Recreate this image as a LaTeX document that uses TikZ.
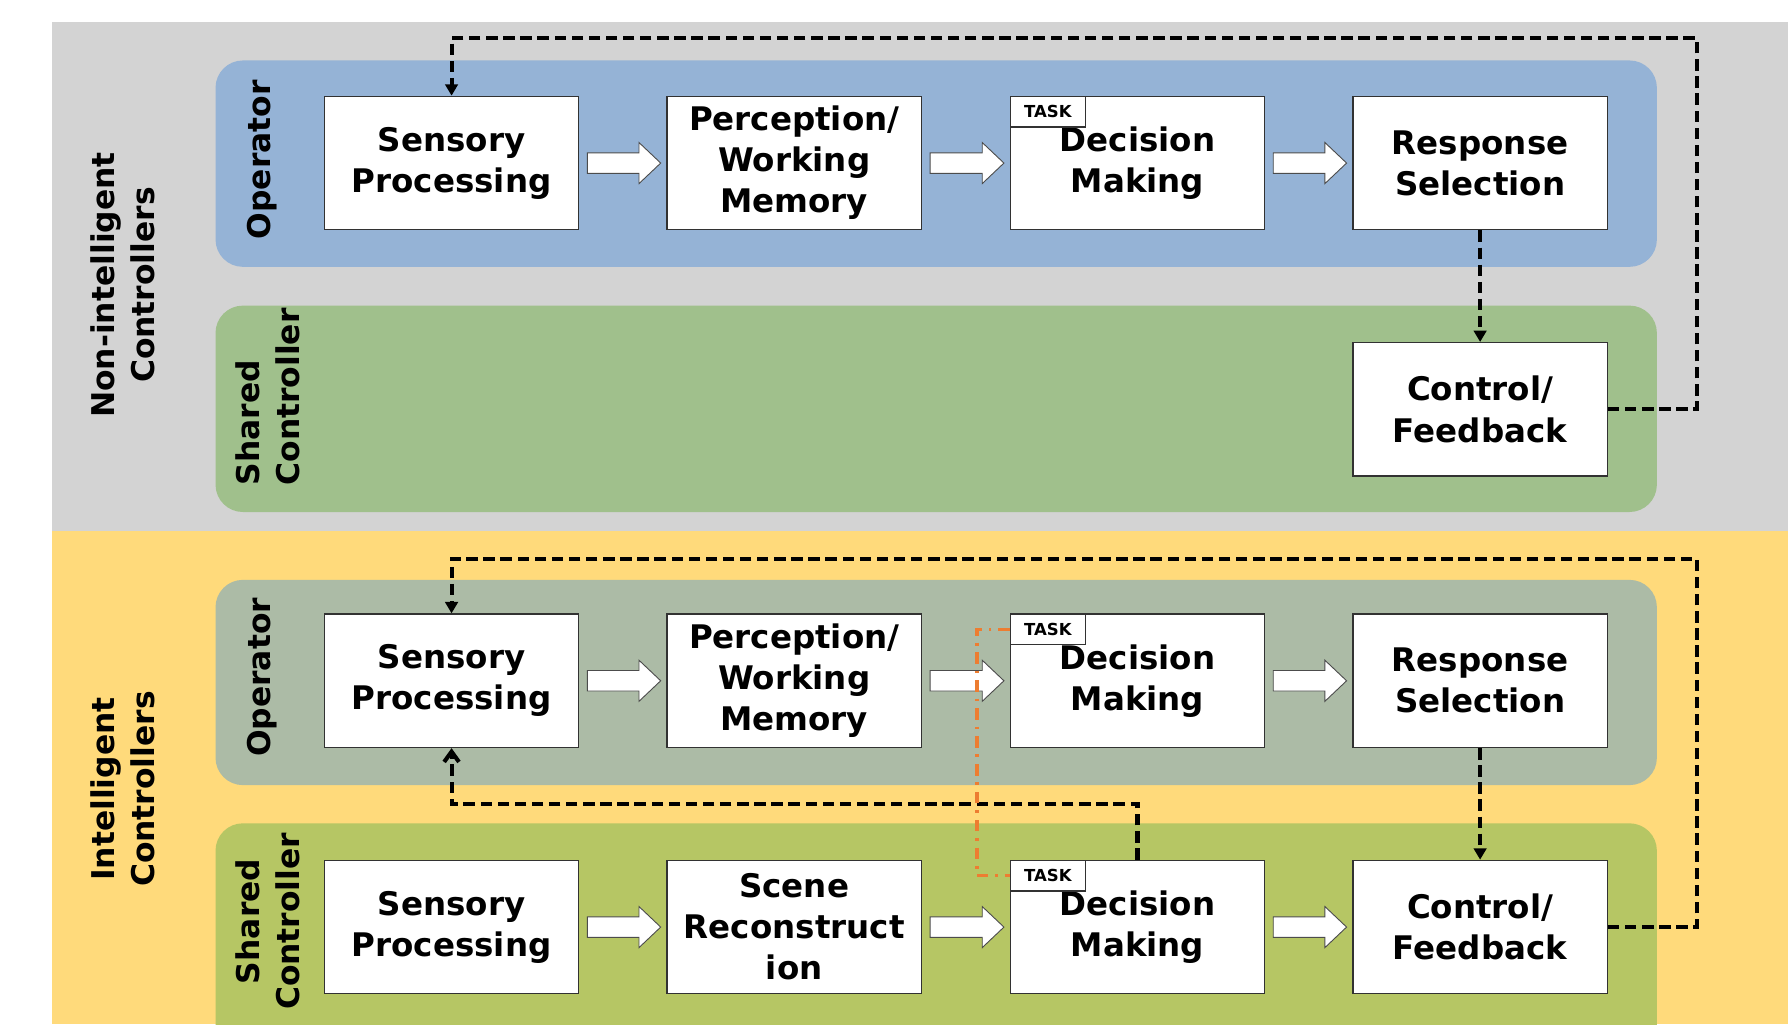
\documentclass[tikz,border=0pt]{standalone}
\usepackage{fontspec}
\setmainfont{DejaVu Sans}
\usetikzlibrary{arrows.meta,calc}
\definecolor{panelgrey}{RGB}{211,211,211}
\definecolor{panelyellow}{RGB}{255,218,123}
\definecolor{bandblue}{RGB}{149,179,214}
\definecolor{bandgreen}{RGB}{160,192,140}
\definecolor{bandsage}{RGB}{172,187,166}
\definecolor{bandolive}{RGB}{182,198,100}
\definecolor{taskorange}{RGB}{237,125,49}
\definecolor{boxline}{RGB}{50,50,50}
\newcommand{\stagearrow}[2]{%
  \draw[blockarrow] let \p1=(#1.east), \p2=(#2.west) in
    (\x1+7pt,\y1+9pt) -- (\x2-24pt,\y1+9pt) -- (\x2-24pt,\y1+18pt) --
    (\x2-5pt,\y1) -- (\x2-24pt,\y1-18pt) -- (\x2-24pt,\y1-9pt) --
    (\x1+7pt,\y1-9pt) -- cycle;}
\begin{document}
\begin{tikzpicture}[x=1pt,y=-1pt,
  stagebox/.style={draw=boxline, line width=1.2pt, fill=white, minimum width=223pt,
    minimum height=117pt, inner sep=0pt, align=center,
    font=\fontsize{28.5}{36}\selectfont\bfseries},
  tasktab/.style={draw=boxline, line width=1pt, fill=white, minimum width=66pt,
    minimum height=27pt, inner sep=0pt, anchor=north west,
    font=\fontsize{14.5}{15}\selectfont\bfseries},
  band/.style={rounded corners=24pt},
  sidelabel/.style={rotate=90, inner sep=0pt, font=\fontsize{27.5}{35}\selectfont\bfseries},
  blockarrow/.style={draw=gray!60!black, line width=0.8pt, fill=white},
  fb/.style={line width=3.6pt, dash pattern=on 10pt off 5pt},
  fbtip/.style={-{Triangle[length=10pt,width=11pt]}},
  taskline/.style={draw=taskorange, line width=3pt, dash pattern=on 10pt off 6pt on 2.5pt off 6pt}
]
\useasboundingbox (0,0) rectangle (1568,898);
\clip (0,0) rectangle (1568,898);
\fill[white] (0,0) rectangle (1568,898);
% panels
\fill[panelgrey] (46,19) rectangle (1568,466);
\fill[panelyellow] (46,466) rectangle (1568,898);
% bands
\fill[bandblue, band] (189,53) rectangle (1453,234);
\fill[bandgreen, band] (189,268) rectangle (1453,449);
\fill[bandsage, band] (189,508.5) rectangle (1453,688.5);
\fill[bandolive, band] (189,722) rectangle (1453,950);
% side labels
\node[sidelabel, align=center] (nic) at (108,250) {Non-intelligent\\Controllers};
\node[sidelabel, align=center] (ic) at (108,692) {Intelligent\\Controllers};
\node[sidelabel] (op1) at (230,140) {Operator};
\node[sidelabel, align=left] (sc1) at (235,348) {Shared\\Controller};
\node[sidelabel] (op2) at (230,594) {Operator};
\node[sidelabel, align=center] (sc2) at (235,808) {Shared\\Controller};
% top section boxes
\node[stagebox] (sp1) at (396,143) {Sensory\\Processing};
\node[stagebox] (pm1) at (696.5,143) {Perception/\\Working\\Memory};
\node[stagebox] (dm1) at (997.5,143) {Decision\\Making};
\node[tasktab] (t1) at (dm1.north west) {TASK};
\node[stagebox] (rs1) at (1298,143) {Response\\Selection};
\node[stagebox] (cf1) at (1298,359) {Control/\\Feedback};
% bottom section boxes
\node[stagebox] (sp2) at (396,597) {Sensory\\Processing};
\node[stagebox] (pm2) at (696.5,597) {Perception/\\Working\\Memory};
\node[stagebox] (dm2) at (997.5,597) {Decision\\Making};
\node[tasktab] (t2) at (dm2.north west) {TASK};
\node[stagebox] (rs2) at (1298,597) {Response\\Selection};
\node[stagebox] (sp3) at (396,813) {Sensory\\Processing};
\node[stagebox] (sr3) at (696.5,813) {Scene\\Reconstruct\\ion};
\node[stagebox] (dm3) at (997.5,813) {Decision\\Making};
\node[tasktab] (t3) at (dm3.north west) {TASK};
\node[stagebox] (cf2) at (1298,813) {Control/\\Feedback};
% block arrows
\stagearrow{sp1}{pm1}
\stagearrow{pm1}{dm1}
\stagearrow{dm1}{rs1}
\stagearrow{sp2}{pm2}
\stagearrow{pm2}{dm2}
\stagearrow{dm2}{rs2}
\stagearrow{sp3}{sr3}
\stagearrow{sr3}{dm3}
\stagearrow{dm3}{cf2}
% feedback loops
\coordinate (r1) at (1488,33.6);
\coordinate (r2) at (1488,490);
\coordinate (m2) at (396,705);
\draw[fb, fbtip] (rs1.south) -- (cf1.north);
\draw[fb, fbtip] (cf1.east) -| (r1) -| (sp1.north);
\draw[fb, fbtip] (rs2.south) -- (cf2.north);
\draw[fb, fbtip] (cf2.east) -| (r2) -| (sp2.north);
\draw[fb, -{Straight Barb[length=9pt,width=13pt]}] (dm3.north) |- (m2) -- (sp2.south);
% task link
\coordinate (ox) at (856.6,0);
\draw[taskline] (t2.west) -- (t2.west -| ox) |- (t3.west);
\end{tikzpicture}
\end{document}
